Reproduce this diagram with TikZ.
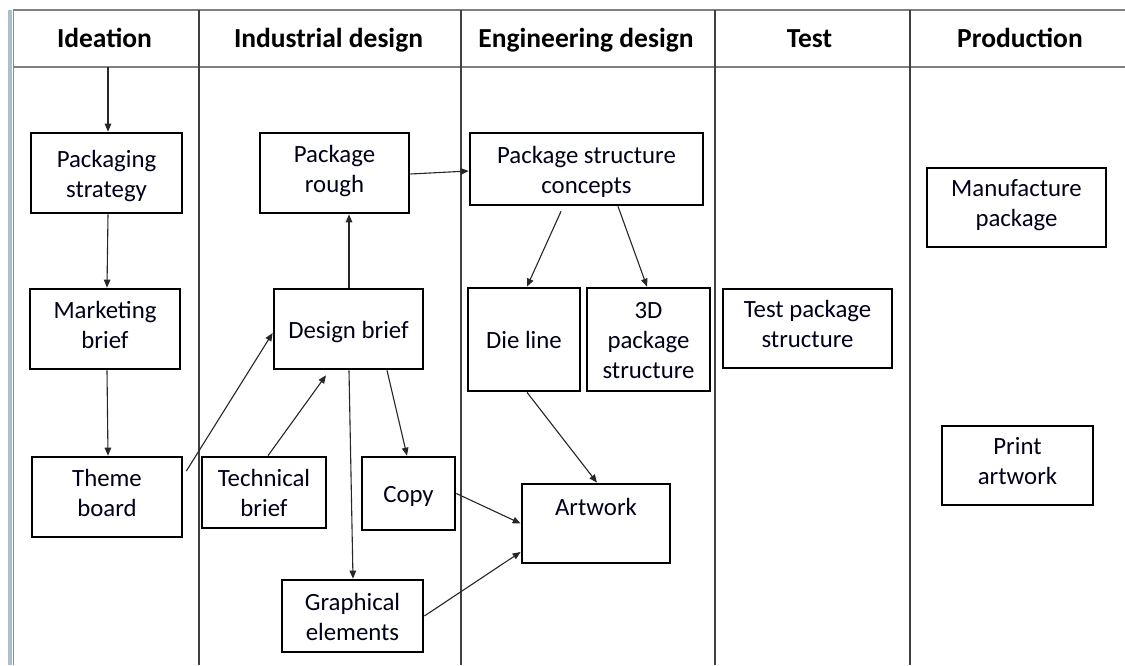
\documentclass[tikz,border=0pt]{standalone}
\usepackage{fontspec}
\setmainfont{Carlito}
\usetikzlibrary{arrows.meta,calc}
% tall first line for some of the boxes
\newcommand\tstrut{\rule{0pt}{27pt}}

\begin{document}
\begin{tikzpicture}[x=1pt,y=-1pt,
  box/.style args={#1/#2}{draw=black, line width=2.7, minimum width=#1, minimum height=#2,
    inner sep=0pt, align=center, text=black!90!blue,
    font=\fontsize{24.8}{30}\selectfont,
    execute at begin node=\rule{0pt}{27pt}, execute at end node=\rule[-9pt]{0pt}{9pt}},
  head/.style={anchor=base, font=\fontsize{27.5}{30}\selectfont\bfseries},
  lane/.style={draw=black!75, line width=1.2},
  rule/.style={draw=black!50, line width=1.6},
  flow/.style={draw=black!85, line width=1.1, -{Triangle[length=8,width=6.5]}}
]
\useasboundingbox (0,0) rectangle (1125,665);
\fill[white] (0,0) rectangle (1125,665);

% window edge on the left
\fill[blue!30!cyan!25!gray!55] (8,10) rectangle (12,665);
\draw[black!45, line width=1] (13,10) -- (13,665);

% swimlane frame
\draw[rule] (13,10) -- (1125,10);
\draw[rule] (13,67) -- (1125,67);
\foreach \x in {199,461,715,910} \draw[lane] (\x,10) -- (\x,665);

% lane titles
\node[head] (hIdea) at (104.5,47) {Ideation};
\node[head] (hInd)  at (328.5,47) {Industrial design};
\node[head] (hEng)  at (586,47)   {Engineering design};
\node[head] (hTest) at (809.5,47) {Test};
\node[head] (hProd) at (1020,47)  {Production};

% process steps
\node[box=151/80] (ps)   at (106.5,173)  {\tstrut Packaging\\strategy};
\node[box=150/80] (mb)   at (105,329)    {Marketing\\brief};
\node[box=150/80] (tb)   at (107,497)    {Theme\\board};
\node[box=149/80] (pr)   at (334.5,173)  {Package\\rough};
\node[box=149/80] (db)   at (348.5,329)  {Design brief};
\node[box=124/71] (tech) at (264,492.5)  {\tstrut Technical\\brief};
\node[box=93/73]  (copy) at (408.5,493.5){Copy};
\node[box=141/72] (ge)   at (352.5,616)  {\tstrut Graphical\\elements};
\node[box=233/72] (psc)  at (586.5,169)  {\tstrut Package structure\\concepts};
\node[box=112/103](die)  at (524,339.5)  {Die line};
\node[box=123/103](td)   at (648.5,339.5){\tstrut 3D\\package\\structure};
\node[box=169/79] (test) at (807.5,328.5){Test package\\structure};
\node[box=148/79] (art)  at (596,523.5)  {\rule{0pt}{22pt}Artwork\\\mbox{}};
\node[box=179/79] (mp)   at (1016.5,207.5){Manufacture\\package};
\node[box=151/79] (pa)   at (1017.5,465.5){Print\\artwork};

% flow
\coordinate (start) at (108,67);
\draw[flow] (start) -- (start |- ps.north);
\draw[flow] ([shift={(1.5,0)}]ps.south) -- ([shift={(2,0)}]mb.north);
\draw[flow] ([shift={(2,0)}]mb.south) -- ([shift={(1,0)}]tb.north);
\draw[flow] ([shift={(3,-26)}]tb.east) -- ([shift={(0,4)}]db.west);
\draw[flow] ([shift={(4,0)}]tech.north) -- ([shift={(-22.5,5)}]db.south);
\draw[flow] ([shift={(0.5,0)}]db.north) -- ([shift={(0.5,0)}]db.north |- pr.south);
\draw[flow] ([shift={(0.5,0)}]db.south) -- ([shift={(0.5,0)}]ge.north);
\draw[flow] ([shift={(38.5,0)}]db.south) -- ([shift={(-1.5,0)}]copy.north);
\draw[flow] ([shift={(0,1)}]pr.east) -- ([shift={(0,2)}]psc.west);
\draw[flow] ([shift={(-25.5,5)}]psc.south) -- ([shift={(3,0)}]die.north);
\draw[flow] ([shift={(31.5,0)}]psc.south) -- ([shift={(-1.5,0)}]td.north);
\draw[flow] ([shift={(3,0)}]die.south) -- ([shift={(1,0)}]art.north);
\draw[flow] (copy.east) -- (art.west);
\draw[flow] (ge.east) -- ([shift={(0,28.5)}]art.west);
\end{tikzpicture}
\end{document}
